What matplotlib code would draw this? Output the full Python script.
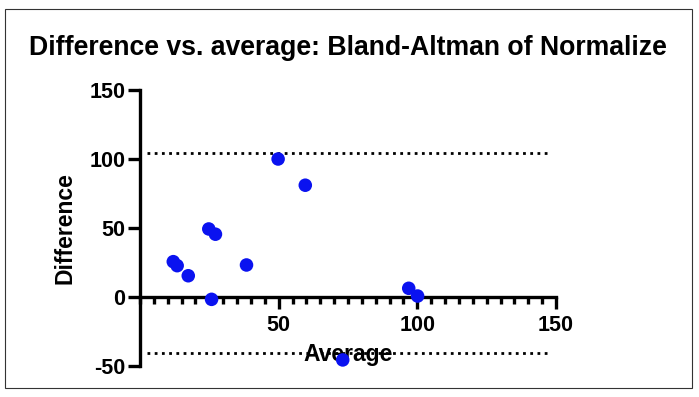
import matplotlib.pyplot as plt
from matplotlib.patches import Rectangle
from matplotlib.ticker import MultipleLocator

# Bland-Altman values
average = [12.0, 13.4, 17.4, 24.8, 27.2, 25.8, 38.4, 49.8, 59.6, 96.9, 100.1, 73.1]
difference = [25.6, 22.7, 15.4, 49.3, 45.5, -1.7, 23.2, 100.0, 81.0, 6.3, 0.7, -45.6]
upper_loa = 104.6
lower_loa = -40.8
loa_span = [2.5, 148.0]

plt.rcParams["font.family"] = ["Liberation Sans", "DejaVu Sans"]
plt.rcParams["font.weight"] = "bold"
plt.rcParams["axes.unicode_minus"] = False

fig = plt.figure(figsize=(6.99, 3.97), dpi=100)
ax = fig.add_axes([0.2003, 0.0781, 0.5951, 0.6952])

# limits of agreement
ax.plot(loa_span, [upper_loa, upper_loa], color="black", lw=2.0,
        linestyle=(0, (1, 1.6)), zorder=2)
ax.plot(loa_span, [lower_loa, lower_loa], color="black", lw=2.0,
        linestyle=(0, (1, 1.6)), zorder=2)

ax.scatter(average, difference, s=95, color="#0a12f0", edgecolors="none",
           zorder=4, clip_on=False)

ax.set_xlim(0, 150)
ax.set_ylim(-50, 150)

# Prism style axes: x axis crosses at y = 0
for side in ["top", "right"]:
    ax.spines[side].set_visible(False)
ax.spines["bottom"].set_position(("data", 0))
ax.spines["bottom"].set_linewidth(2.4)
ax.spines["left"].set_linewidth(2.4)
ax.spines["bottom"].set_zorder(3)

ax.xaxis.set_major_locator(MultipleLocator(50))
ax.xaxis.set_minor_locator(MultipleLocator(5))
ax.yaxis.set_major_locator(MultipleLocator(50))
ax.set_xticks([50, 100, 150])
ax.set_xticklabels(["50", "100", "150"])

ax.tick_params(axis="x", which="major", direction="out", length=8.5, width=2.4,
               pad=4.5, labelsize=15.5)
ax.tick_params(axis="x", which="minor", direction="out", length=5, width=2.4)
ax.tick_params(axis="y", which="major", direction="out", length=9, width=2.4,
               pad=1.5, labelsize=15.5)
for lab in ax.get_xticklabels() + ax.get_yticklabels():
    lab.set_fontweight("bold")

ax.set_xlabel("Average", fontsize=16.5, fontweight="bold")
ax.xaxis.set_label_coords(0.5, 0.085)
ax.set_ylabel("Difference", fontsize=16.5, fontweight="bold")
ax.yaxis.set_label_coords(-0.153, 0.5)
ax.xaxis.label.set_zorder(5)

fig.text(0.498, 0.88, "Difference vs. average: Bland-Altman of Normalize",
         ha="center", va="center", fontsize=19.2, fontweight="bold")

# thin frame around the whole graph
fig.patches.append(Rectangle((5 / 699, 9 / 397), 687 / 699, 379 / 397,
                             transform=fig.transFigure, fill=False,
                             edgecolor="#333333", lw=0.8))

fig.savefig("out.png", dpi=100)
